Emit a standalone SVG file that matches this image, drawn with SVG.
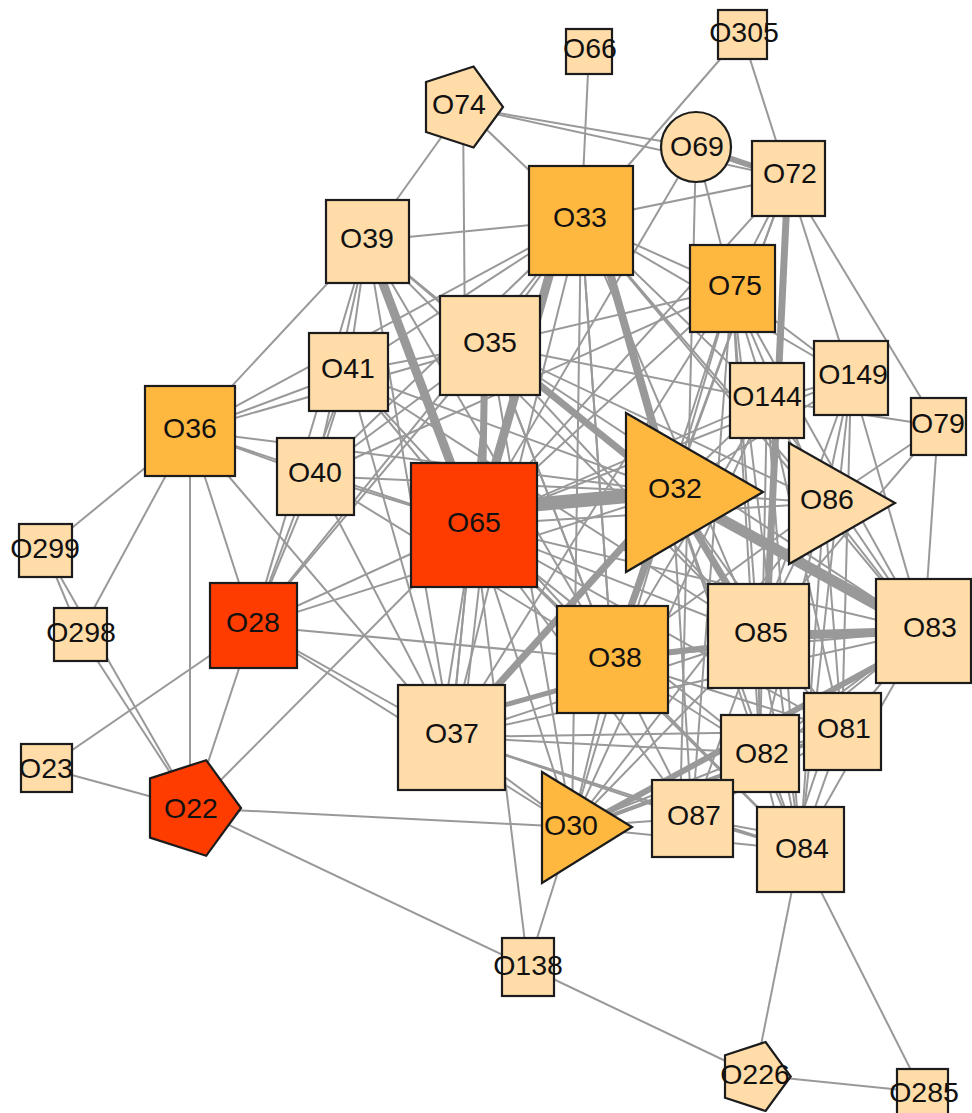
<svg xmlns="http://www.w3.org/2000/svg" width="972" height="1113" viewBox="0 0 972 1113">
<style>
.e line{stroke:#999;stroke-width:2;fill:none;stroke-linecap:butt}
.e line.w4{stroke-width:4}
.e line.w5{stroke-width:5}
.e line.w6{stroke-width:6}
.e line.w7{stroke-width:7}
.e line.w8{stroke-width:8}
.e line.w9{stroke-width:9}
.e line.w11{stroke-width:11}
.e line.w14{stroke-width:14}
.n{stroke:#1c1c1c;stroke-width:2.2}
.lt{fill:#FFDCA8}
.md{fill:#FFB83F}
.rd{fill:#FF3C00}
text{font-family:"Liberation Sans",Arial,sans-serif;font-size:28.5px;fill:#111;text-anchor:middle}
</style>
<rect width="972" height="1113" fill="#fff"/>
<g id="connectors" class="e">
<line x1="589" y1="52" x2="581" y2="220"/>
<line x1="742" y1="34" x2="788" y2="178"/>
<line x1="742" y1="34" x2="581" y2="220"/>
<line x1="463" y1="107" x2="367" y2="241"/>
<line x1="463" y1="107" x2="465" y2="345"/>
<line x1="463" y1="107" x2="581" y2="220"/>
<line x1="463" y1="107" x2="696" y2="147"/>
<line x1="463" y1="107" x2="788" y2="178"/>
<line x1="696" y1="147" x2="732" y2="288"/>
<line x1="696" y1="147" x2="474" y2="525"/>
<line x1="696" y1="147" x2="680" y2="818"/>
<line x1="788" y1="178" x2="581" y2="220"/>
<line x1="788" y1="178" x2="732" y2="288"/>
<line x1="788" y1="178" x2="474" y2="525"/>
<line x1="788" y1="178" x2="672" y2="492"/>
<line x1="788" y1="178" x2="612" y2="659"/>
<line x1="788" y1="178" x2="938" y2="426"/>
<line x1="788" y1="178" x2="851" y2="378"/>
<line x1="367" y1="241" x2="581" y2="220"/>
<line x1="367" y1="241" x2="190" y2="431"/>
<line x1="367" y1="241" x2="348" y2="372"/>
<line x1="367" y1="241" x2="315" y2="476"/>
<line x1="367" y1="241" x2="253" y2="626"/>
<line x1="367" y1="241" x2="490" y2="345"/>
<line x1="367" y1="241" x2="612" y2="659"/>
<line x1="367" y1="241" x2="451" y2="737"/>
<line x1="367" y1="241" x2="672" y2="492"/>
<line x1="367" y1="241" x2="758" y2="636"/>
<line x1="348" y1="372" x2="190" y2="431"/>
<line x1="348" y1="372" x2="490" y2="345"/>
<line x1="348" y1="372" x2="474" y2="525"/>
<line x1="348" y1="372" x2="672" y2="492"/>
<line x1="348" y1="372" x2="581" y2="220"/>
<line x1="348" y1="372" x2="253" y2="626"/>
<line x1="348" y1="372" x2="315" y2="476"/>
<line x1="348" y1="372" x2="612" y2="659"/>
<line x1="348" y1="372" x2="451" y2="737"/>
<line x1="348" y1="372" x2="758" y2="636"/>
<line x1="315" y1="476" x2="190" y2="431"/>
<line x1="315" y1="476" x2="490" y2="345"/>
<line x1="315" y1="476" x2="474" y2="525"/>
<line x1="315" y1="476" x2="253" y2="626"/>
<line x1="315" y1="476" x2="672" y2="492"/>
<line x1="315" y1="476" x2="581" y2="220"/>
<line x1="315" y1="476" x2="451" y2="737"/>
<line x1="315" y1="476" x2="612" y2="659"/>
<line x1="315" y1="476" x2="732" y2="288"/>
<line x1="190" y1="431" x2="45" y2="550"/>
<line x1="190" y1="431" x2="80" y2="634"/>
<line x1="190" y1="431" x2="190" y2="808"/>
<line x1="190" y1="431" x2="253" y2="626"/>
<line x1="190" y1="431" x2="451" y2="737"/>
<line x1="190" y1="431" x2="490" y2="345"/>
<line x1="190" y1="431" x2="474" y2="525"/>
<line x1="190" y1="431" x2="581" y2="220"/>
<line x1="190" y1="431" x2="672" y2="492"/>
<line x1="253" y1="626" x2="46" y2="768"/>
<line x1="253" y1="626" x2="193" y2="808"/>
<line x1="253" y1="626" x2="474" y2="525"/>
<line x1="253" y1="626" x2="451" y2="737"/>
<line x1="253" y1="626" x2="612" y2="659"/>
<line x1="253" y1="626" x2="672" y2="492"/>
<line x1="253" y1="626" x2="490" y2="345"/>
<line x1="253" y1="626" x2="581" y2="220"/>
<line x1="253" y1="626" x2="572" y2="827"/>
<line x1="193" y1="808" x2="46" y2="768"/>
<line x1="193" y1="808" x2="45" y2="550"/>
<line x1="193" y1="808" x2="80" y2="634"/>
<line x1="45" y1="550" x2="80" y2="634"/>
<line x1="193" y1="808" x2="474" y2="525"/>
<line x1="193" y1="808" x2="572" y2="827"/>
<line x1="193" y1="808" x2="528" y2="967"/>
<line x1="528" y1="967" x2="755" y2="1075"/>
<line x1="528" y1="967" x2="474" y2="525"/>
<line x1="528" y1="967" x2="572" y2="827"/>
<line x1="755" y1="1075" x2="922" y2="1092"/>
<line x1="800" y1="850" x2="755" y2="1075"/>
<line x1="800" y1="850" x2="922" y2="1092"/>
<line x1="451" y1="737" x2="572" y2="827"/>
<line x1="451" y1="737" x2="758" y2="636"/>
<line x1="451" y1="737" x2="760" y2="753"/>
<line x1="451" y1="737" x2="692" y2="818"/>
<line x1="451" y1="737" x2="800" y2="850"/>
<line x1="451" y1="737" x2="924" y2="631"/>
<line x1="451" y1="737" x2="490" y2="345"/>
<line x1="440" y1="737" x2="474" y2="525"/>
<line x1="462" y1="737" x2="486" y2="525"/>
<line x1="451" y1="737" x2="581" y2="220"/>
<line x1="451" y1="737" x2="732" y2="288"/>
<line x1="451" y1="737" x2="842" y2="731"/>
<line x1="572" y1="827" x2="758" y2="636"/>
<line x1="572" y1="827" x2="760" y2="753"/>
<line x1="572" y1="827" x2="692" y2="818"/>
<line x1="572" y1="827" x2="800" y2="850"/>
<line x1="572" y1="827" x2="612" y2="659"/>
<line x1="572" y1="827" x2="474" y2="525"/>
<line x1="572" y1="827" x2="672" y2="492"/>
<line x1="572" y1="827" x2="490" y2="345"/>
<line x1="572" y1="827" x2="581" y2="220"/>
<line x1="572" y1="827" x2="767" y2="400"/>
<line x1="572" y1="827" x2="824" y2="503"/>
<line x1="612" y1="659" x2="474" y2="525"/>
<line x1="612" y1="659" x2="924" y2="631"/>
<line x1="612" y1="659" x2="760" y2="753"/>
<line x1="612" y1="659" x2="800" y2="850"/>
<line x1="612" y1="659" x2="692" y2="818"/>
<line x1="612" y1="659" x2="842" y2="731"/>
<line x1="612" y1="659" x2="490" y2="345"/>
<line x1="612" y1="659" x2="581" y2="220"/>
<line x1="612" y1="659" x2="732" y2="288"/>
<line x1="612" y1="659" x2="767" y2="400"/>
<line x1="612" y1="659" x2="824" y2="503"/>
<line x1="758" y1="636" x2="824" y2="503"/>
<line x1="758" y1="636" x2="760" y2="753"/>
<line x1="758" y1="636" x2="800" y2="850"/>
<line x1="758" y1="636" x2="842" y2="731"/>
<line x1="758" y1="636" x2="692" y2="818"/>
<line x1="758" y1="636" x2="851" y2="378"/>
<line x1="758" y1="636" x2="732" y2="288"/>
<line x1="758" y1="636" x2="474" y2="525"/>
<line x1="758" y1="636" x2="581" y2="220"/>
<line x1="758" y1="636" x2="490" y2="345"/>
<line x1="758" y1="636" x2="938" y2="426"/>
<line x1="924" y1="631" x2="938" y2="426"/>
<line x1="924" y1="631" x2="851" y2="378"/>
<line x1="924" y1="631" x2="824" y2="503"/>
<line x1="924" y1="631" x2="842" y2="731"/>
<line x1="924" y1="631" x2="760" y2="753"/>
<line x1="924" y1="631" x2="800" y2="850"/>
<line x1="924" y1="631" x2="767" y2="400"/>
<line x1="924" y1="631" x2="732" y2="288"/>
<line x1="924" y1="631" x2="474" y2="525"/>
<line x1="924" y1="631" x2="581" y2="220"/>
<line x1="924" y1="631" x2="692" y2="818"/>
<line x1="924" y1="631" x2="490" y2="345"/>
<line x1="824" y1="503" x2="672" y2="492"/>
<line x1="824" y1="503" x2="938" y2="426"/>
<line x1="824" y1="503" x2="851" y2="378"/>
<line x1="824" y1="503" x2="767" y2="400"/>
<line x1="824" y1="503" x2="842" y2="731"/>
<line x1="824" y1="503" x2="800" y2="850"/>
<line x1="824" y1="503" x2="760" y2="753"/>
<line x1="824" y1="503" x2="732" y2="288"/>
<line x1="824" y1="503" x2="581" y2="220"/>
<line x1="824" y1="503" x2="474" y2="525"/>
<line x1="824" y1="503" x2="490" y2="345"/>
<line x1="767" y1="400" x2="732" y2="288"/>
<line x1="767" y1="400" x2="581" y2="220"/>
<line x1="767" y1="400" x2="474" y2="525"/>
<line x1="767" y1="400" x2="490" y2="345"/>
<line x1="767" y1="400" x2="672" y2="492"/>
<line x1="767" y1="400" x2="851" y2="378"/>
<line x1="767" y1="400" x2="842" y2="731"/>
<line x1="767" y1="400" x2="760" y2="753"/>
<line x1="767" y1="400" x2="800" y2="850"/>
<line x1="767" y1="400" x2="938" y2="426"/>
<line x1="851" y1="378" x2="732" y2="288"/>
<line x1="851" y1="378" x2="842" y2="731"/>
<line x1="851" y1="378" x2="800" y2="850"/>
<line x1="851" y1="378" x2="581" y2="220"/>
<line x1="851" y1="378" x2="474" y2="525"/>
<line x1="851" y1="378" x2="672" y2="492"/>
<line x1="732" y1="288" x2="581" y2="220"/>
<line x1="732" y1="288" x2="490" y2="345"/>
<line x1="732" y1="288" x2="474" y2="525"/>
<line x1="732" y1="288" x2="672" y2="492"/>
<line x1="732" y1="288" x2="760" y2="753"/>
<line x1="732" y1="288" x2="800" y2="850"/>
<line x1="732" y1="288" x2="692" y2="818"/>
<line x1="581" y1="220" x2="490" y2="345"/>
<line x1="581" y1="220" x2="612" y2="659"/>
<line x1="490" y1="345" x2="451" y2="737"/>
<line x1="490" y1="345" x2="612" y2="659"/>
<line x1="474" y1="525" x2="760" y2="753"/>
<line x1="474" y1="525" x2="692" y2="818"/>
<line x1="474" y1="525" x2="800" y2="850"/>
<line x1="474" y1="525" x2="842" y2="731"/>
<line x1="672" y1="492" x2="760" y2="753"/>
<line x1="672" y1="492" x2="800" y2="850"/>
<line x1="672" y1="492" x2="842" y2="731"/>
<line x1="672" y1="492" x2="692" y2="818"/>
<line x1="760" y1="753" x2="800" y2="850"/>
<line x1="760" y1="753" x2="842" y2="731"/>
<line x1="760" y1="753" x2="692" y2="818"/>
<line x1="692" y1="818" x2="800" y2="850"/>
<line x1="692" y1="818" x2="800" y2="838"/>
<line x1="692" y1="818" x2="842" y2="731"/>
<line x1="842" y1="731" x2="800" y2="850"/>
<line x1="830" y1="731" x2="790" y2="850"/>
<line x1="760" y1="753" x2="785" y2="850"/>
<line class="w14" x1="474" y1="510" x2="672" y2="492"/>
<line class="w9" x1="367" y1="241" x2="474" y2="525"/>
<line class="w9" x1="565" y1="220" x2="478" y2="525"/>
<line class="w7" x1="485" y1="345" x2="482" y2="525"/>
<line class="w8" x1="595" y1="220" x2="672" y2="492"/>
<line class="w7" x1="490" y1="345" x2="672" y2="492"/>
<line class="w11" x1="672" y1="492" x2="924" y2="631"/>
<line class="w7" x1="451" y1="737" x2="672" y2="492"/>
<line class="w7" x1="612" y1="659" x2="672" y2="492"/>
<line class="w7" x1="672" y1="492" x2="758" y2="636"/>
<line class="w7" x1="788" y1="178" x2="766" y2="636"/>
<line class="w6" x1="696" y1="147" x2="788" y2="178"/>
<line class="w6" x1="612" y1="659" x2="758" y2="642"/>
<line class="w9" x1="758" y1="636" x2="924" y2="631"/>
<line class="w5" x1="451" y1="720" x2="612" y2="675"/>
<line class="w6" x1="580" y1="827" x2="924" y2="640"/>
<line class="w4" x1="580" y1="827" x2="842" y2="731"/>
</g>
<g id="O66"><rect class="n lt" x="566" y="29" width="46" height="45"/><text x="590" y="58">O66</text></g>
<g id="O305"><rect class="n lt" x="718" y="10" width="49" height="49"/><text x="744" y="42">O305</text></g>
<g id="O74"><polygon class="n lt" points="503,107 473.6,147.5 426,132 426,82 473.6,66.5"/><text x="459" y="114">O74</text></g>
<g id="O69"><circle class="n lt" cx="696" cy="147" r="35"/><text x="697" y="156">O69</text></g>
<g id="O72"><rect class="n lt" x="752" y="141" width="73" height="75"/><text x="790" y="183">O72</text></g>
<g id="O33"><rect class="n md" x="529" y="166" width="104" height="109"/><text x="580" y="227">O33</text></g>
<g id="O39"><rect class="n lt" x="326" y="200" width="83" height="83"/><text x="367" y="248">O39</text></g>
<g id="O75"><rect class="n md" x="690" y="245" width="85" height="87"/><text x="735" y="295">O75</text></g>
<g id="O35"><rect class="n lt" x="440" y="296" width="100" height="99"/><text x="490" y="352">O35</text></g>
<g id="O41"><rect class="n lt" x="309" y="333" width="79" height="78"/><text x="348" y="378">O41</text></g>
<g id="O149"><rect class="n lt" x="814" y="341" width="74" height="74"/><text x="853" y="384">O149</text></g>
<g id="O144"><rect class="n lt" x="730" y="363" width="74" height="75"/><text x="767" y="406">O144</text></g>
<g id="O79"><rect class="n lt" x="911" y="398" width="55" height="57"/><text x="938" y="433">O79</text></g>
<g id="O36"><rect class="n md" x="145" y="386" width="90" height="90"/><text x="190" y="438">O36</text></g>
<g id="O40"><rect class="n lt" x="277" y="438" width="77" height="77"/><text x="315" y="482">O40</text></g>
<g id="O65"><rect class="n rd" x="411" y="463" width="126" height="124"/><text x="474" y="532">O65</text></g>
<g id="O32"><polygon class="n md" points="626,413 763,492 626,572"/><text x="675" y="498">O32</text></g>
<g id="O86"><polygon class="n lt" points="789,443 895,503 789,564"/><text x="827" y="509">O86</text></g>
<g id="O299"><rect class="n lt" x="19" y="524" width="53" height="53"/><text x="45" y="558">O299</text></g>
<g id="O298"><rect class="n lt" x="54" y="608" width="53" height="53"/><text x="81" y="642">O298</text></g>
<g id="O28"><rect class="n rd" x="210" y="583" width="87" height="85"/><text x="253" y="632">O28</text></g>
<g id="O38"><rect class="n md" x="557" y="606" width="111" height="107"/><text x="615" y="667">O38</text></g>
<g id="O85"><rect class="n lt" x="708" y="584" width="101" height="104"/><text x="761" y="642">O85</text></g>
<g id="O83"><rect class="n lt" x="876" y="579" width="95" height="104"/><text x="930" y="637">O83</text></g>
<g id="O81"><rect class="n lt" x="804" y="693" width="77" height="77"/><text x="844" y="738">O81</text></g>
<g id="O82"><rect class="n lt" x="721" y="715" width="78" height="77"/><text x="762" y="763">O82</text></g>
<g id="O37"><rect class="n lt" x="398" y="685" width="107" height="105"/><text x="452" y="743">O37</text></g>
<g id="O87"><rect class="n lt" x="652" y="780" width="81" height="77"/><text x="694" y="825">O87</text></g>
<g id="O84"><rect class="n lt" x="757" y="807" width="87" height="85"/><text x="802" y="858">O84</text></g>
<g id="O30"><polygon class="n md" points="542,772 632,827 542,883"/><text x="571" y="835">O30</text></g>
<g id="O23"><rect class="n lt" x="21" y="744" width="51" height="48"/><text x="46" y="778">O23</text></g>
<g id="O22"><polygon class="n rd" points="241,808 206.2,855.8 150,837.6 150,778.4 206.2,760.2"/><text x="191" y="818">O22</text></g>
<g id="O138"><rect class="n lt" x="502" y="938" width="52" height="58"/><text x="528" y="975">O138</text></g>
<g id="O226"><polygon class="n lt" points="790.7,1076.5 765.6,1111 725,1097.8 725,1055.2 765.6,1042"/><text x="755" y="1084">O226</text></g>
<g id="O285"><rect class="n lt" x="897" y="1069" width="51" height="52"/><text x="924" y="1102">O285</text></g>
</svg>
